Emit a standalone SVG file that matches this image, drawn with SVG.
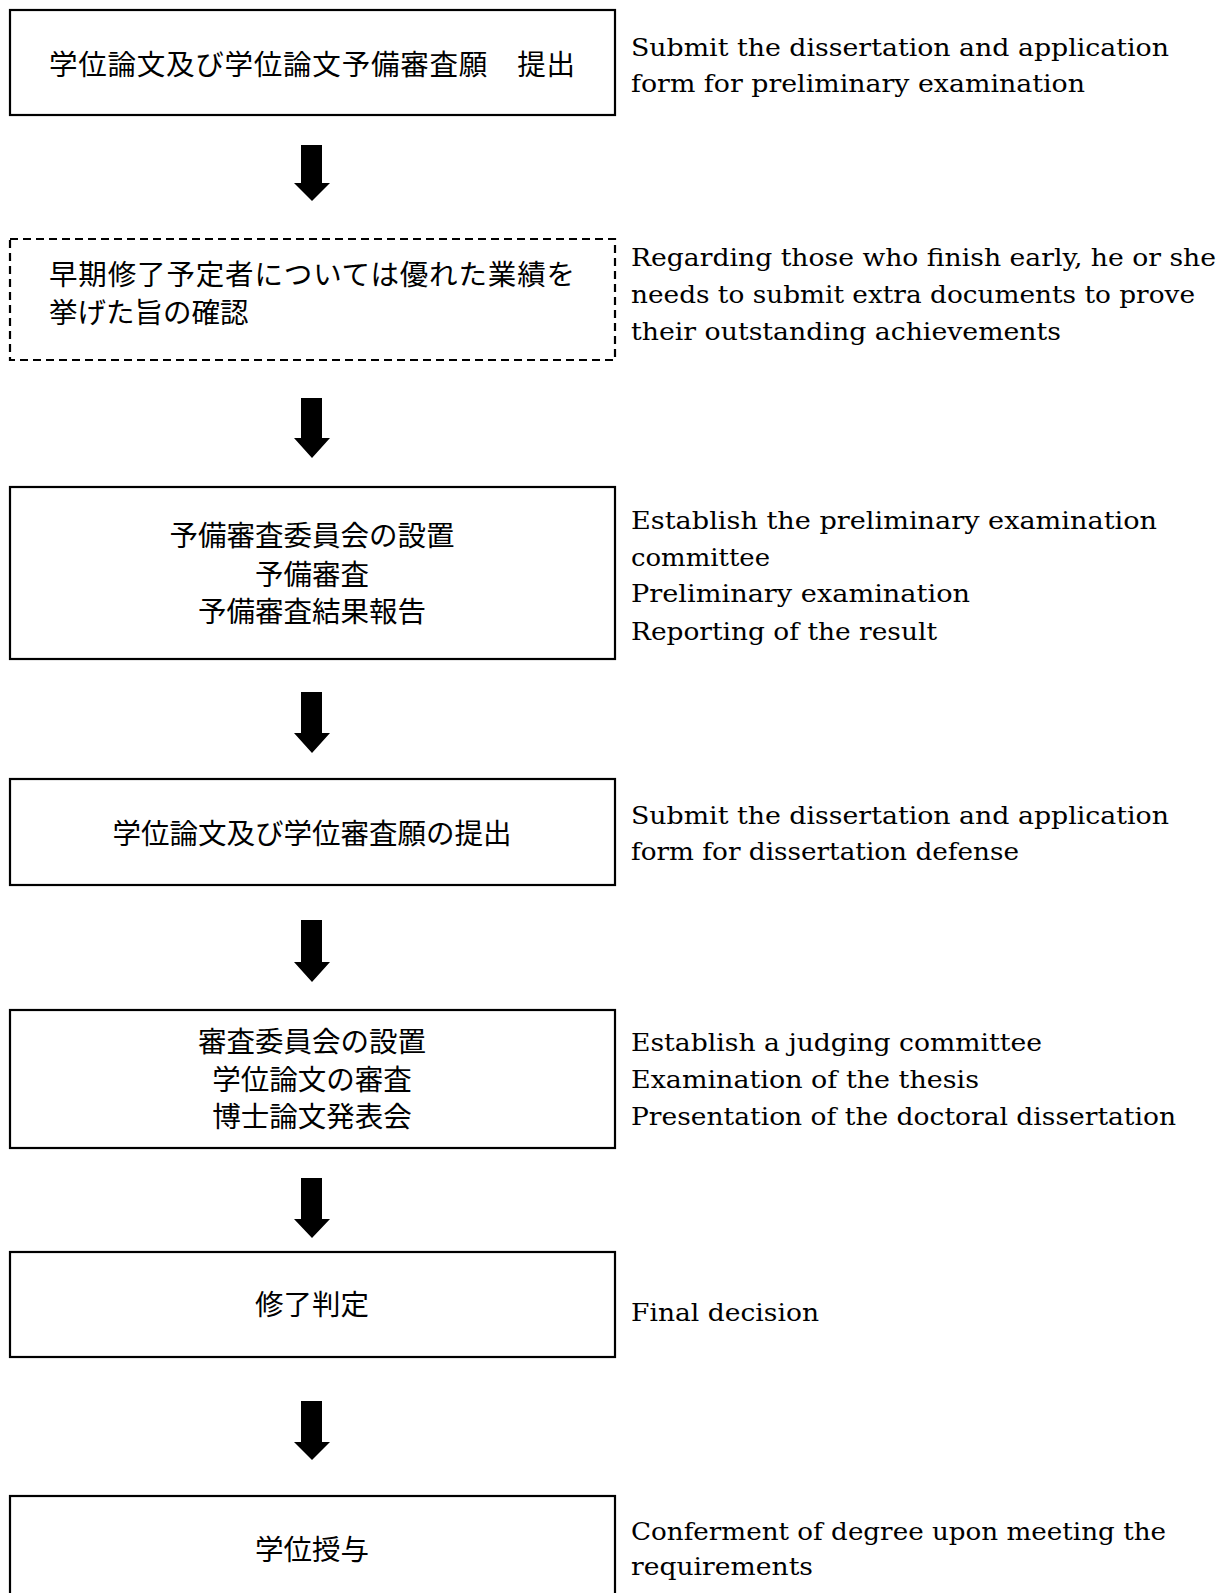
<svg xmlns="http://www.w3.org/2000/svg" width="1222" height="1593" viewBox="0 0 1222 1593">
<defs>
<style>
.box{fill:#fff;stroke:#000;stroke-width:2.2}
.dash{fill:#fff;stroke:#000;stroke-width:2.2;stroke-dasharray:8 5}
.jp{font-family:"Noto Sans CJK JP","Noto Sans CJK SC",sans-serif;font-size:28.5px;fill:#000}
.c{text-anchor:middle}
.en{font-family:"DejaVu Serif","Liberation Serif",serif;font-size:25px;fill:#000}
.arr{fill:#000}
</style>
</defs>
<rect width="1222" height="1593" fill="#fff"/>
<g id="connectors">
<polygon class="arr" points="301,145 322,145 322,183 330,183 312,201 294,183 301,183"/>
<polygon class="arr" points="301,398 322,398 322,438 330,438 312,458 294,438 301,438"/>
<polygon class="arr" points="301,692 322,692 322,733 330,733 312,753 294,733 301,733"/>
<polygon class="arr" points="301,920 322,920 322,962 330,962 312,982 294,962 301,962"/>
<polygon class="arr" points="301,1178 322,1178 322,1219 330,1219 312,1238 294,1219 301,1219"/>
<polygon class="arr" points="301,1401 322,1401 322,1442 330,1442 312,1460 294,1442 301,1442"/>
</g>
<g id="node1">
<rect class="box" x="10" y="10" width="605" height="105"/>
<text class="jp c" x="312" y="75" textLength="526" lengthAdjust="spacing">学位論文及び学位論文予備審査願　提出</text>
<text class="en" x="631" y="56" textLength="538" lengthAdjust="spacingAndGlyphs">Submit the dissertation and application</text>
<text class="en" x="631" y="92" textLength="454" lengthAdjust="spacingAndGlyphs">form for preliminary examination</text>
</g>
<g id="node2">
<rect class="dash" x="10" y="239" width="605" height="121"/>
<text class="jp" x="49" y="285" textLength="526" lengthAdjust="spacing">早期修了予定者については優れた業績を</text>
<text class="jp" x="49" y="323">挙げた旨の確認</text>
<text class="en" x="631" y="266" textLength="585" lengthAdjust="spacingAndGlyphs">Regarding those who finish early, he or she</text>
<text class="en" x="631" y="303" textLength="564" lengthAdjust="spacingAndGlyphs">needs to submit extra documents to prove</text>
<text class="en" x="631" y="340" textLength="430" lengthAdjust="spacingAndGlyphs">their outstanding achievements</text>
</g>
<g id="node3">
<rect class="box" x="10" y="487" width="605" height="172"/>
<text class="jp c" x="312" y="546">予備審査委員会の設置</text>
<text class="jp c" x="312" y="585">予備審査</text>
<text class="jp c" x="312" y="622">予備審査結果報告</text>
<text class="en" x="631" y="529" textLength="526" lengthAdjust="spacingAndGlyphs">Establish the preliminary examination</text>
<text class="en" x="631" y="566" textLength="139" lengthAdjust="spacingAndGlyphs">committee</text>
<text class="en" x="631" y="602" textLength="339" lengthAdjust="spacingAndGlyphs">Preliminary examination</text>
<text class="en" x="631" y="640" textLength="306" lengthAdjust="spacingAndGlyphs">Reporting of the result</text>
</g>
<g id="node4">
<rect class="box" x="10" y="779" width="605" height="106"/>
<text class="jp c" x="312" y="844">学位論文及び学位審査願の提出</text>
<text class="en" x="631" y="824" textLength="538" lengthAdjust="spacingAndGlyphs">Submit the dissertation and application</text>
<text class="en" x="631" y="860" textLength="388" lengthAdjust="spacingAndGlyphs">form for dissertation defense</text>
</g>
<g id="node5">
<rect class="box" x="10" y="1010" width="605" height="138"/>
<text class="jp c" x="312" y="1052">審査委員会の設置</text>
<text class="jp c" x="312" y="1090">学位論文の審査</text>
<text class="jp c" x="312" y="1127">博士論文発表会</text>
<text class="en" x="631" y="1051" textLength="411" lengthAdjust="spacingAndGlyphs">Establish a judging committee</text>
<text class="en" x="631" y="1088" textLength="348" lengthAdjust="spacingAndGlyphs">Examination of the thesis</text>
<text class="en" x="631" y="1125" textLength="545" lengthAdjust="spacingAndGlyphs">Presentation of the doctoral dissertation</text>
</g>
<g id="node6">
<rect class="box" x="10" y="1252" width="605" height="105"/>
<text class="jp c" x="312" y="1315">修了判定</text>
<text class="en" x="631" y="1321" textLength="188" lengthAdjust="spacingAndGlyphs">Final decision</text>
</g>
<g id="node7">
<rect class="box" x="10" y="1496" width="605" height="120"/>
<text class="jp c" x="312" y="1560">学位授与</text>
<text class="en" x="631" y="1540" textLength="535" lengthAdjust="spacingAndGlyphs">Conferment of degree upon meeting the</text>
<text class="en" x="631" y="1575" textLength="182" lengthAdjust="spacingAndGlyphs">requirements</text>
</g>
</svg>
